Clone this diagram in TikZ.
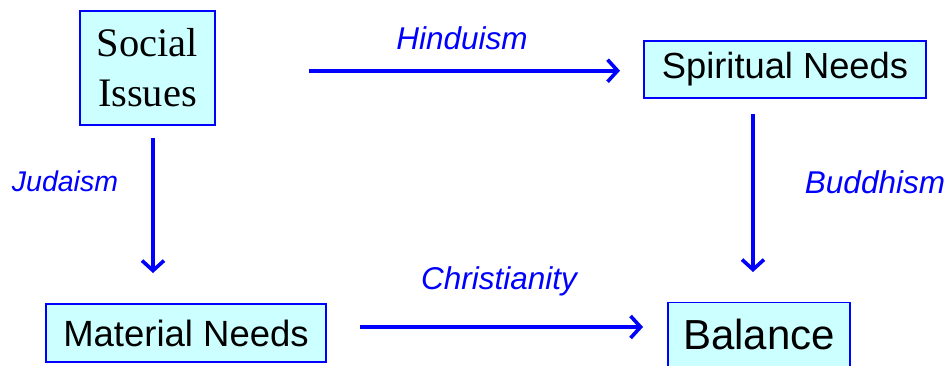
\documentclass[tikz,border=0pt]{standalone}
\usepackage{fontspec}
\setmainfont{Liberation Serif}
\newfontfamily\arial{Liberation Sans}
\usetikzlibrary{arrows.meta}
\definecolor{boxfill}{HTML}{CCFFFF}
\definecolor{pblue}{RGB}{0,0,255}
\tikzset{
  boxnode/.style={draw=pblue, line width=1.6pt, fill=boxfill, inner sep=0pt, text=black},
  lbl/.style={text=pblue, font=\arial\itshape\fontsize{31.5}{36}\selectfont, anchor=base, inner sep=0pt},
  arr/.style={draw=pblue, line width=3.6pt, -{Straight Barb[length=10pt,width=22pt]}}
}
\begin{document}
\begin{tikzpicture}[x=1pt,y=-1pt]
\useasboundingbox (0,0) rectangle (948,365);
% boxes
\node[boxnode, minimum width=135pt, minimum height=114pt, align=center,
      font=\fontsize{40.5}{50}\selectfont] (si) at (147.5,68) {Social\\Issues};
\node[boxnode, minimum width=282pt, minimum height=57pt,
      font=\arial\fontsize{36.3}{42}\selectfont] (sn) at (785,69.5) {Spiritual Needs};
\node[boxnode, minimum width=280pt, minimum height=58pt,
      font=\arial\fontsize{36.5}{42}\selectfont] (mn) at (186,333) {Material Needs};
\node[boxnode, minimum width=182pt, anchor=base, inner ysep=16pt, text depth=30pt,
      font=\arial\fontsize{42}{48}\selectfont] (bal) at (759,349) {Balance};
% arrow end points
\coordinate (h1) at (309,70.7);
\coordinate (h2) at (620,70.7);
\coordinate (j1) at (153,138);
\coordinate (j2) at (153,273);
\coordinate (b1) at (753,114);
\coordinate (b2) at (753,272);
\coordinate (c1) at (360,327);
\coordinate (c2) at (643,327);
\draw[arr] (h1) -- (h2);
\draw[arr] (j1) -- (j2);
\draw[arr] (b1) -- (b2);
\draw[arr] (c1) -- (c2);
% labels
\node[lbl] (lh) at (462,49.3) {Hinduism};
\node[lbl, font=\arial\itshape\fontsize{28.5}{34}\selectfont] (lj) at (65,191.7) {Judaism};
\node[lbl] (lb) at (875,193) {Buddhism};
\node[lbl] (lc) at (499,289.3) {Christianity};
\end{tikzpicture}
\end{document}
